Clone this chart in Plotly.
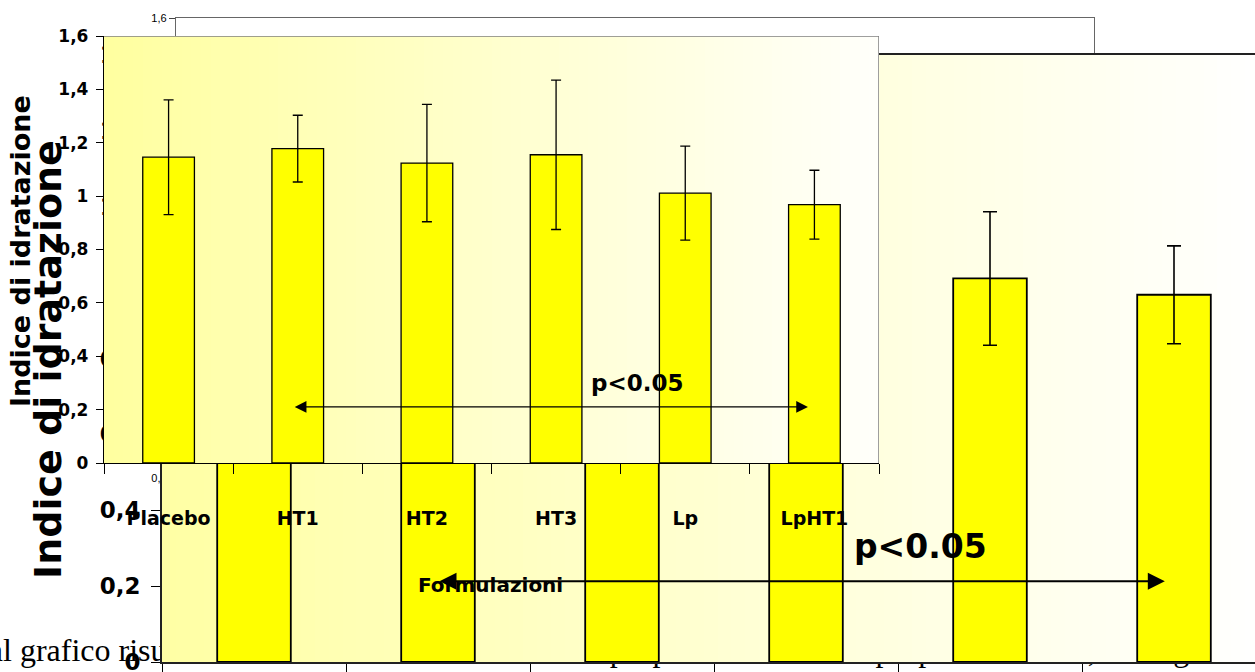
import numpy as np
import plotly.graph_objects as go

# ---------------- data ----------------
categories = ["Placebo", "HT1", "HT2", "HT3", "Lp", "LpHT1"]
idratazione = [1.146, 1.178, 1.124, 1.155, 1.011, 0.968]
errore = [0.215, 0.125, 0.220, 0.280, 0.176, 0.129]
y_ticks = [0, 0.2, 0.4, 0.6, 0.8, 1.0, 1.2, 1.4, 1.6]
confronto = ["HT1", "LpHT1"]
p_label = "p<0.05"
y_title = "Indice di idratazione"
x_title = "Formulazioni"
didascalia_inizio = "Da"
didascalia = ("l grafico risulta evidente come la formulazione proposta accresca "
              "la propria idratante, analoghe a quelle")

# ---------------- geometry (pixels) ----------------
W, H = 1255, 672
A = dict(l=104, r=879, t=36, b=463)          # front chart
B = dict(l=162, t=55, b=662, cat=184)        # large chart behind
C = dict(l=176, r=1094, t=18, b=544)         # frame at the back
CAPTION = dict(x=3, y=653)                   # page text beneath the charts

def dx(p):
    return p / W

def dy(p):
    return 1 - p / H

idx = list(range(len(categories)))
bounds = [i - 0.5 for i in range(len(categories) + 1)]
i0, i1 = categories.index(confronto[0]), categories.index(confronto[1])
BAR = "#FFFF00"
FONT = "DejaVu Sans"

fig = go.Figure()

# ---- page caption (very back), pixel-mapped invisible axes ----
cap_font = dict(family="Liberation Serif", size=32, color="black")
fig.add_trace(go.Scatter(x=[CAPTION["x"]], y=[CAPTION["y"]], mode="text", text=[didascalia],
                         textposition="middle right", textfont=cap_font,
                         xaxis="x", yaxis="y", cliponaxis=False, hoverinfo="skip", showlegend=False))
fig.add_trace(go.Scatter(x=[CAPTION["x"]], y=[CAPTION["y"]], mode="text", text=[didascalia_inizio],
                         textposition="middle left", textfont=cap_font,
                         xaxis="x", yaxis="y", cliponaxis=False, hoverinfo="skip", showlegend=False))

# ---- C (back frame) ----
fig.add_trace(go.Bar(x=idx, y=idratazione, width=0.4, xaxis="x2", yaxis="y2",
                     marker=dict(color=BAR, line=dict(color="black", width=1)),
                     error_y=dict(type="data", array=errore, color="black", thickness=1, width=3),
                     hoverinfo="skip", showlegend=False))

# ---- B (large, middle) ----
b_xmax = -0.5 + (W - B["l"]) / B["cat"]
nb = 80
fig.add_trace(go.Heatmap(x=np.linspace(-0.5, b_xmax + 0.1, nb + 1), y=[0, 1.6],
                         z=[list(range(nb))], xaxis="x3", yaxis="y3",
                         colorscale=[[0, "rgb(255,255,165)"], [1, "rgb(255,255,255)"]],
                         showscale=False, hoverinfo="skip"))
fig.add_trace(go.Bar(x=idx, y=idratazione, width=0.4, xaxis="x3", yaxis="y3",
                     marker=dict(color=BAR, line=dict(color="black", width=1.8)),
                     error_y=dict(type="data", array=errore, color="black", thickness=1.6, width=7),
                     hoverinfo="skip", showlegend=False))

# ---- A (front) ----
na = 80
fig.add_trace(go.Heatmap(x=np.linspace(-0.5, 5.5, na + 1), y=[0, 1.6],
                         z=[list(range(na))], xaxis="x4", yaxis="y4",
                         colorscale=[[0, "rgb(255,255,160)"], [1, "rgb(255,255,250)"]],
                         showscale=False, hoverinfo="skip"))
fig.add_trace(go.Bar(x=idx, y=idratazione, width=0.4, xaxis="x4", yaxis="y4",
                     marker=dict(color=BAR, line=dict(color="black", width=1.3)),
                     error_y=dict(type="data", array=errore, color="black", thickness=1.3, width=5),
                     hoverinfo="skip", showlegend=False))

common = dict(showgrid=False, zeroline=False, fixedrange=True, automargin=False)

fig.update_layout(
    width=W, height=H, autosize=False,
    margin=dict(l=0, r=0, t=0, b=0, pad=0, autoexpand=False),
    paper_bgcolor="white", plot_bgcolor="rgba(0,0,0,0)",
    separators=",.",
    showlegend=False,
    # caption layer
    xaxis=dict(domain=[0, 1], range=[0, W], anchor="y", visible=False, **common),
    yaxis=dict(domain=[0, 1], range=[H, 0], anchor="x", visible=False, **common),
    # C
    xaxis2=dict(domain=[dx(C["l"]), dx(C["r"])], range=[-0.5, 5.5], anchor="y2",
                showline=True, mirror=True, linecolor="#666", linewidth=1.3,
                ticks="", showticklabels=False, **common),
    yaxis2=dict(domain=[dy(C["b"]), dy(C["t"])], range=[0, 1.6], anchor="x2",
                tickmode="array", tickvals=y_ticks, ticks="outside", ticklen=6,
                tickcolor="#444", showline=True, mirror=True, linecolor="#666", linewidth=1.3,
                tickfont=dict(family="Liberation Sans", size=11, color="black"),
                ticklabeloverflow="allow", **common),
    # B
    xaxis3=dict(domain=[dx(B["l"]), 1], range=[-0.5, b_xmax], anchor="y3",
                showline=True, mirror=True, linecolor="#222", linewidth=1.6,
                ticks="", showticklabels=False,
                minor=dict(tickmode="array", tickvals=bounds, ticks="outside", ticklen=10,
                           tickcolor="black", tickwidth=1.3, showgrid=False),
                **common),
    yaxis3=dict(domain=[dy(B["b"]), dy(B["t"])], range=[0, 1.6], anchor="x3",
                tickmode="array", tickvals=y_ticks, ticks="outside", ticklen=9,
                tickcolor="black", tickwidth=1.3, showline=True, linecolor="#222", linewidth=1.6,
                tickfont=dict(family=FONT, size=23, color="black", weight="bold"),
                ticklabelstandoff=6, ticklabeloverflow="allow", **common),
    # A
    xaxis4=dict(domain=[dx(A["l"]), dx(A["r"])], range=[-0.5, 5.5], anchor="y4",
                tickmode="array", tickvals=idx, ticktext=categories, ticks="",
                showline=True, linecolor="black", linewidth=1.3,
                minor=dict(tickmode="array", tickvals=bounds, ticks="outside", ticklen=10,
                           tickcolor="black", tickwidth=1.2, showgrid=False),
                tickfont=dict(family=FONT, size=19, color="black", weight="bold"),
                ticklabelstandoff=38, ticklabeloverflow="allow", **common),
    yaxis4=dict(domain=[dy(A["b"]), dy(A["t"])], range=[0, 1.6], anchor="x4",
                tickmode="array", tickvals=y_ticks, ticks="outside", ticklen=7,
                tickcolor="black", tickwidth=1.2, showline=True, linecolor="black", linewidth=1.3,
                tickfont=dict(family=FONT, size=17, color="black", weight="bold"),
                ticklabelstandoff=4, ticklabeloverflow="allow", **common),
)

# grey top / right border of the front plot area
fig.add_shape(type="line", xref="x4", yref="y4", x0=-0.5, x1=5.5, y0=1.6, y1=1.6,
              line=dict(color="#7f7f7f", width=1.5), layer="above")
fig.add_shape(type="line", xref="x4", yref="y4", x0=5.5, x1=5.5, y0=0, y1=1.6,
              line=dict(color="#7f7f7f", width=1.5), layer="above")

ann = []
# B titles / arrow
ann.append(dict(text=y_title, xref="paper", yref="paper", x=dx(48), y=dy(360),
                textangle=-90, showarrow=False, xanchor="center", yanchor="middle",
                font=dict(family=FONT, size=38, color="black", weight="bold")))
ann.append(dict(text=p_label, xref="x3", yref="y3", x=3.62, y=0.305, showarrow=False,
                font=dict(family=FONT, size=33, color="black", weight="bold")))
ann.append(dict(text="", xref="x3", yref="y3", axref="x3", ayref="y3",
                x=i1 - 0.05, y=0.213, ax=i0, ay=0.213, showarrow=True,
                arrowhead=2, arrowside="end+start", arrowsize=1.7, arrowwidth=2,
                arrowcolor="black", standoff=0, startstandoff=0))
# A titles / arrow
ann.append(dict(text=y_title, xref="paper", yref="paper", x=dx(20), y=dy(251),
                textangle=-90, showarrow=False, xanchor="center", yanchor="middle",
                font=dict(family=FONT, size=27, color="black", weight="bold")))
ann.append(dict(text=x_title, xref="paper", yref="paper", x=dx(490), y=dy(585),
                showarrow=False, xanchor="center", yanchor="middle",
                font=dict(family=FONT, size=20, color="black", weight="bold")))
ann.append(dict(text=p_label, xref="x4", yref="y4", x=3.63, y=0.30, showarrow=False,
                font=dict(family=FONT, size=23, color="black", weight="bold")))
ann.append(dict(text="", xref="x4", yref="y4", axref="x4", ayref="y4",
                x=i1 - 0.05, y=0.21, ax=i0 - 0.035, ay=0.21, showarrow=True,
                arrowhead=2, arrowside="end+start", arrowsize=1.8, arrowwidth=1.3,
                arrowcolor="black", standoff=0, startstandoff=0))
fig.update_layout(annotations=ann)

fig.write_html("out.html", config={"displayModeBar": False},
               post_script="document.body.style.margin='0';document.body.style.overflow='hidden';")
